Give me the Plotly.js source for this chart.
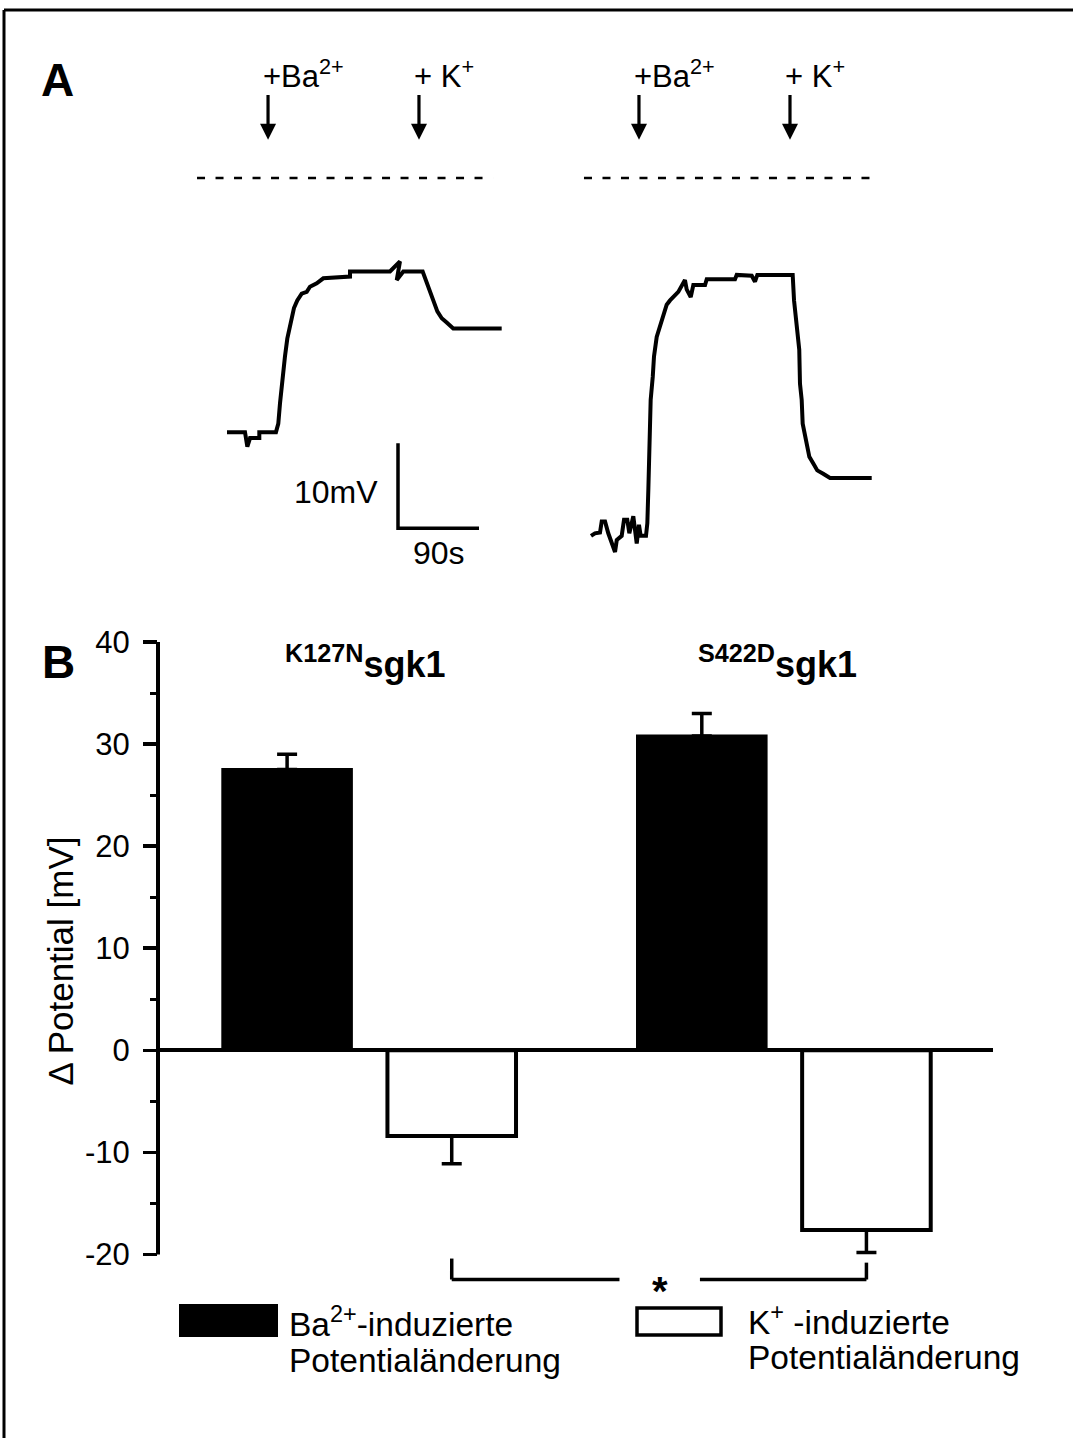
<!DOCTYPE html>
<html>
<head>
<meta charset="utf-8">
<script src="https://cdn.plot.ly/plotly-3.0.1.min.js"></script>
<style>html,body{margin:0;padding:0;background:#fff;} #chart{width:1073px;height:1438px;}</style>
</head>
<body>
<div id="chart"></div>
<script>
// ---------- Panel A: membrane potential recordings (time in s, potential in mV rel. to dashed reference) ----------
const traceK127N_t = [0, 20, 22.6, 25.6, 35.9, 35.9, 54.4, 57, 58.9, 60.8, 64.4, 67, 70.8, 74.4, 78.1, 83, 88.6, 92.2, 99.7, 107, 136.7, 136.7, 181.1, 192.2, 188.6, 195.9, 217.4, 221.9, 225.6, 229.2, 233.7, 238.6, 244.1, 251.4, 305.2];
const traceK127N_v = [-29.9, -29.9, -31.6, -30.6, -30.6, -29.9, -29.9, -28.9, -26.5, -24.2, -21.0, -18.9, -16.9, -15.3, -14.4, -13.6, -13.4, -12.8, -12.4, -11.8, -11.6, -11.0, -11.0, -9.8, -12.0, -11.0, -11.0, -12.2, -13.2, -14.4, -15.7, -16.5, -17.0, -17.7, -17.7];

const traceS422D_t = [0, 4.4, 10, 11.9, 15.6, 19.2, 26.7, 28.6, 34.1, 36.7, 40.3, 42.6, 47, 50.8, 53.3, 55.2, 61.1, 62.6, 63.7, 64.4, 65.6, 66.3, 68.6, 70, 73, 76.7, 80.3, 84.1, 87.8, 93.3, 97, 104.4, 106.3, 110.8, 113.7, 126.7, 128.6, 160, 161.9, 178.6, 182.2, 184.8, 224.1, 225.6, 229.2, 231.4, 232.2, 234.1, 235.2, 237.8, 240.3, 242.6, 247, 251.4, 258, 265.6, 311.9];
const traceS422D_v = [-42.1, -41.8, -41.7, -40.4, -40.4, -41.8, -44.0, -42.6, -42.1, -40.2, -40.2, -41.8, -39.8, -43.0, -40.8, -42.1, -42.1, -40.6, -36.7, -32.0, -28.9, -26.1, -23.4, -21.0, -18.7, -17.5, -16.3, -14.9, -14.4, -13.8, -13.4, -12.0, -13.1, -14.0, -12.6, -12.6, -11.9, -11.9, -11.4, -11.5, -12.2, -11.4, -11.4, -14.4, -17.5, -20.2, -24.2, -26.1, -28.9, -30.4, -31.6, -32.8, -33.6, -34.4, -34.8, -35.3, -35.3];

// dashed reference level (0 mV) extents [start, end] in s
const refLineK127N_t = [-33.3, 295.6];
const refLineS422D_t = [-7.8, 320];
const refLevel = [0, 0];

// times of additions (s) for each recording: [Ba2+, K+]
const additionsK127N_t = [45.6, 213.3];
const additionsS422D_t = [53.3, 221.1];
const additionLabels = ['+Ba<sup>2+</sup>', '+ K<sup>+</sup>'];
const arrowTail_v = 10;
const arrowTip_v = 4.5;

// scale bar: corner position and lengths
const scaleBarCorner = [190, -41.2];   // [s, mV]
const scaleBarLength = [90, 10];       // [s, mV]
const scaleBarLabels = ['90s', '10mV'];

// ---------- Panel B: bar chart ----------
const groups = ['K127N', 'S422D'];
const groupTitles = ['<b><sup>K127N</sup>sgk1</b>', '<b><sup>S422D</sup>sgk1</b>'];
const baValues = [27.5, 30.8];
const baErrors = [1.5, 2.2];
const kValues = [-8.4, -17.6];
const kErrors = [2.7, 2.2];
const yTicks = [-20, -10, 0, 10, 20, 30, 40];
const yMinorTicks = [-15, -5, 5, 15, 25, 35];
const legendLabels = [['Ba<sup>2+</sup>-induzierte', 'Potentialänderung'], ['K<sup>+</sup> -induzierte', 'Potentialänderung']];
// significance bracket (mV levels): tops of left/right legs, horizontal level
const sigLegTops = [-20.4, -20.8];
const sigLevel = -22.45;
const sigLabel = '*';

// ---------- helpers (layout in pixels -> paper) ----------
const W = 1073, H = 1438;
const px = x => x / W;
const py = y => 1 - y / H;
const FONT = 'Arial, "Liberation Sans", Helvetica, sans-serif';

const bargap = 0.206, bargroupgap = 0.219;
const slotOffset = (1 - bargap) / 4;  // centre offset of each bar in a group

const data = [];
// Panel A traces
data.push({type:'scatter', mode:'lines', x: refLineK127N_t, y: refLevel, xaxis:'x2', yaxis:'y2',
  line:{color:'#000', width:2.5, dash:'8px,10.5px'}, hoverinfo:'skip'});
data.push({type:'scatter', mode:'lines', x: refLineS422D_t, y: refLevel, xaxis:'x3', yaxis:'y2',
  line:{color:'#000', width:2.5, dash:'8px,10.5px'}, hoverinfo:'skip'});
data.push({type:'scatter', mode:'lines', x: traceK127N_t, y: traceK127N_v, xaxis:'x2', yaxis:'y2',
  line:{color:'#000', width:4}});
data.push({type:'scatter', mode:'lines', x: traceS422D_t, y: traceS422D_v, xaxis:'x3', yaxis:'y2',
  line:{color:'#000', width:4}});
data.push({type:'scatter', mode:'lines', xaxis:'x2', yaxis:'y2',
  x:[scaleBarCorner[0], scaleBarCorner[0], scaleBarCorner[0] + scaleBarLength[0]],
  y:[scaleBarCorner[1] + scaleBarLength[1], scaleBarCorner[1], scaleBarCorner[1]],
  line:{color:'#000', width:3.5}});

// Panel B bars
data.push({type:'bar', name:'Ba2+', x: groups, y: baValues, xaxis:'x', yaxis:'y',
  marker:{color:'#000', line:{color:'#000', width:3}},
  error_y:{type:'data', symmetric:false, array: baErrors, arrayminus: baErrors.map(() => 0),
    color:'#000', thickness:3.5, width:10}});
data.push({type:'bar', name:'K+', x: groups, y: kValues, xaxis:'x', yaxis:'y',
  marker:{color:'#fff', line:{color:'#000', width:4}},
  error_y:{type:'data', symmetric:false, array: kErrors.map(() => 0), arrayminus: kErrors,
    color:'#000', thickness:3.5, width:10}});

const annotations = [];
const shapes = [];

// arrows + labels panel A
[[additionsK127N_t, 'x2'], [additionsS422D_t, 'x3']].forEach(([times, xa]) => {
  times.forEach((t, i) => {
    annotations.push({xref:xa, yref:'y2', axref:xa, ayref:'y2', x:t, y:arrowTip_v, ax:t, ay:arrowTail_v,
      text:' ', font:{size:1}, showarrow:true, arrowhead:2, arrowsize:1, arrowwidth:3.2, arrowcolor:'#000', standoff:0, startstandoff:0});
    annotations.push({xref:xa, yref:'y2', x:t, y:arrowTail_v, xanchor:'left', yanchor:'bottom', xshift:-7, yshift:-3,
      text: additionLabels[i], showarrow:false, font:{size:31, family:FONT, color:'#000'}});
  });
});
// scale bar labels
annotations.push({xref:'x2', yref:'y2', x:scaleBarCorner[0], y:scaleBarCorner[1] + scaleBarLength[1]/2,
  xanchor:'right', yanchor:'middle', xshift:-18, yshift:-6, text:scaleBarLabels[1], showarrow:false,
  font:{size:32, family:FONT, color:'#000'}});
annotations.push({xref:'x2', yref:'y2', x:scaleBarCorner[0] + scaleBarLength[0]/2, y:scaleBarCorner[1],
  xanchor:'center', yanchor:'top', yshift:-5, text:scaleBarLabels[0], showarrow:false,
  font:{size:32, family:FONT, color:'#000'}});

// panel letters
annotations.push({xref:'paper', yref:'paper', x:px(57), y:py(80), xanchor:'center', yanchor:'middle',
  text:'<b>A</b>', showarrow:false, font:{size:46, family:FONT, color:'#000'}});
annotations.push({xref:'paper', yref:'paper', x:px(58), y:py(662), xanchor:'center', yanchor:'middle',
  text:'<b>B</b>', showarrow:false, font:{size:46, family:FONT, color:'#000'}});

// group titles
groups.forEach((g, i) => {
  annotations.push({xref:'x', yref:'paper', x:g, y:py(662), xanchor:'center', yanchor:'middle', xshift: i === 0 ? -4 : -7,
    text:groupTitles[i], showarrow:false, font:{size:36, family:FONT, color:'#000'}});
});

// significance bracket between the two K+ bars
const xL = 0 + slotOffset, xR = 1 + slotOffset;
const starX = 0.70, gapHalf = 0.097;
shapes.push({type:'line', xref:'x', yref:'y', x0:xL, x1:xL, y0:sigLegTops[0], y1:sigLevel, line:{color:'#000', width:3.5}});
shapes.push({type:'line', xref:'x', yref:'y', x0:xL, x1:starX - gapHalf, y0:sigLevel, y1:sigLevel, line:{color:'#000', width:3.5}});
shapes.push({type:'line', xref:'x', yref:'y', x0:starX + gapHalf, x1:xR, y0:sigLevel, y1:sigLevel, line:{color:'#000', width:3.5}});
shapes.push({type:'line', xref:'x', yref:'y', x0:xR, x1:xR, y0:sigLegTops[1], y1:sigLevel, line:{color:'#000', width:3.5}});
annotations.push({xref:'x', yref:'y', x:starX, y:sigLevel, xanchor:'center', yanchor:'middle', yshift:-12,
  text:'<b>' + sigLabel + '</b>', showarrow:false, font:{size:40, family:FONT, color:'#000'}});

// y axis line from -20 to 40
const xDomB = [px(158), px(993)];
shapes.push({type:'line', xref:'paper', yref:'y', x0:xDomB[0], x1:xDomB[0], y0:yTicks[0], y1:yTicks[yTicks.length-1],
  line:{color:'#000', width:4}});

// figure frame (top and left)
shapes.push({type:'line', xref:'paper', yref:'paper', x0:px(4), x1:1, y0:py(10), y1:py(10), line:{color:'#000', width:3}});
shapes.push({type:'line', xref:'paper', yref:'paper', x0:px(4), x1:px(4), y0:0, y1:py(10), line:{color:'#000', width:3}});

// legend (manual)
shapes.push({type:'rect', xref:'paper', yref:'paper', x0:px(180), x1:px(277), y0:py(1336), y1:py(1305),
  fillcolor:'#000', line:{color:'#000', width:2}});
shapes.push({type:'rect', xref:'paper', yref:'paper', x0:px(637), x1:px(721), y0:py(1335), y1:py(1308),
  fillcolor:'#fff', line:{color:'#000', width:3.5}});
const legendPos = [[287, 1322, 1360], [746, 1320, 1357]];
legendLabels.forEach((lines, i) => {
  lines.forEach((txt, j) => {
    annotations.push({xref:'paper', yref:'paper', x:px(legendPos[i][0]), y:py(legendPos[i][1 + j]),
      xanchor:'left', yanchor:'middle', text:txt, showarrow:false, font:{size:33.5, family:FONT, color:'#000'}});
  });
});

const layout = {
  width: W, height: H,
  margin:{l:0, r:0, t:0, b:0},
  paper_bgcolor:'#fff', plot_bgcolor:'rgba(0,0,0,0)',
  showlegend:false,
  barmode:'group', bargap: bargap, bargroupgap: bargroupgap,
  font:{family:FONT, color:'#000', size:30},
  xaxis:{domain:xDomB, range:[-0.5098, 1.5037], showgrid:false, zeroline:false, showline:false,
    ticks:'', showticklabels:false, anchor:'y', type:'category'},
  yaxis:{domain:[0.10278, 0.56064], range:[-23.5, 41], anchor:'x', showgrid:false, showline:false,
    zeroline:true, zerolinecolor:'#000', zerolinewidth:4,
    ticks:'outside', tickmode:'array', tickvals:yTicks, ticktext:yTicks.map(String), ticklen:14, tickwidth:3.5, tickcolor:'#000',
    tickfont:{size:31, family:FONT, color:'#000'}, ticklabelstandoff:7,
    minor:{tickmode:'array', tickvals:yMinorTicks, ticks:'outside', ticklen:7, tickwidth:3, tickcolor:'#000', showgrid:false},
    title:{text:'Δ Potential [mV]', font:{size:35, family:FONT, color:'#000'}, standoff:0}},
  xaxis2:{domain:[px(180), px(560)], range:[-52.22, 370], visible:false, anchor:'y2'},
  xaxis3:{domain:[px(560), px(920)], range:[-34.44, 365.56], visible:false, anchor:'y2'},
  yaxis2:{domain:[py(600), py(40)], range:[-49.647, 16.235], visible:false, anchor:'x2'},
  annotations: annotations,
  shapes: shapes
};

Plotly.newPlot('chart', data, layout, {displayModeBar:false, staticPlot:true});
</script>
</body>
</html>
